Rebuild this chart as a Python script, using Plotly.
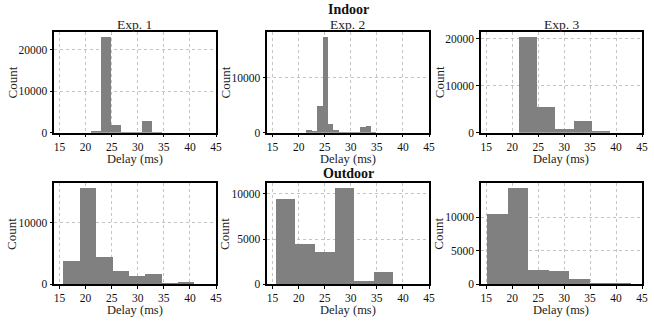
import plotly.graph_objects as go

# ---- data ----
panel_titles = ["Exp. 1", "Exp. 2", "Exp. 3", "", "", ""]
row_titles = ["Indoor", "Outdoor"]

# histogram bins: first edge, bin width, counts
exp1_start, exp1_width = 21.0, 1.943
exp1_counts = [540, 23150, 1960, 200, 200, 2900, 300]

exp2_start, exp2_width = 21.45, 1.031
exp2_counts = [600, 420, 4880, 17550, 1670, 600, 180, 180, 180, 180, 1130, 1310, 180]

exp3_start, exp3_width = 21.26, 3.49
exp3_counts = [20480, 5490, 900, 2570, 450]

out1_start, out1_width = 15.7, 3.14
out1_counts = [3780, 15590, 4410, 2180, 1380, 1700, 30, 270]

out2_start, out2_width = 15.57, 3.76
out2_counts = [9350, 4420, 3550, 10620, 360, 1380]

out3_start, out3_width = 15.13, 3.94
out3_counts = [10440, 14370, 2140, 1990, 830, 50, 150]

y_ranges = [24330, 18430, 21500, 16370, 11150, 15090]
y_ticks = [[0, 10000, 20000], [0, 10000], [0, 10000, 20000],
           [0, 10000], [0, 5000, 10000], [0, 5000, 10000]]
x_ticks = [15, 20, 25, 30, 35, 40, 45]
x_range = [13.9, 45]

panels = [
    (exp1_start, exp1_width, exp1_counts),
    (exp2_start, exp2_width, exp2_counts),
    (exp3_start, exp3_width, exp3_counts),
    (out1_start, out1_width, out1_counts),
    (out2_start, out2_width, out2_counts),
    (out3_start, out3_width, out3_counts),
]

# ---- layout geometry ----
W, H = 654, 324
col_px = [(54.3, 218.0), (269.3, 433.0), (485.0, 648.0)]
row_px = [(32.3, 135.3), (186.7, 289.7)]

FONT = "Liberation Serif"
fig = go.Figure()
annotations = []

for i, (start, width, counts) in enumerate(panels):
    r, c = divmod(i, 3)
    n = i + 1
    xa = "x" if n == 1 else f"x{n}"
    ya = "y" if n == 1 else f"y{n}"
    centers = [start + width * (k + 0.5) for k in range(len(counts))]
    fig.add_trace(go.Bar(
        x=centers, y=counts, width=[width] * len(counts),
        marker=dict(color="#808080", line=dict(width=0)),
        xaxis=xa, yaxis=ya, showlegend=False, hoverinfo="skip",
    ))
    x0, x1 = col_px[c]
    t0, t1 = row_px[r]
    dom_x = [x0 / W, x1 / W]
    dom_y = [1 - t1 / H, 1 - t0 / H]
    axis_common = dict(
        showline=True, linecolor="#000000", linewidth=1.5, mirror=True,
        showgrid=True, gridcolor="#c4c4c4", griddash="dot",
        gridwidth=1, zeroline=False, ticks="outside", ticklen=2.5,
        tickcolor="black", tickwidth=1,
        tickfont=dict(family=FONT, size=11.5, color="#111"),
    )
    fig.update_layout(**{
        ("xaxis" if n == 1 else f"xaxis{n}"): dict(
            domain=dom_x, range=x_range, tickvals=x_ticks,
            anchor=ya, **axis_common),
        ("yaxis" if n == 1 else f"yaxis{n}"): dict(
            domain=dom_y, range=[0, y_ranges[i]], tickvals=y_ticks[i],
            tickformat="d", anchor=xa, **axis_common),
    })
    cx = (x0 + x1) / 2 / W
    if panel_titles[i]:
        annotations.append(dict(
            text=panel_titles[i], x=cx, y=1 - (t0 - 7) / H,
            xref="paper", yref="paper", xanchor="center", yanchor="middle",
            showarrow=False, borderpad=0,
            font=dict(family=FONT, size=13.5, color="#222")))
    annotations.append(dict(
        text="Delay (ms)", x=cx, y=1 - (t1 + 26.5) / H,
        xref="paper", yref="paper", xanchor="center", yanchor="middle",
        showarrow=False, borderpad=0,
        font=dict(family=FONT, size=12.5, color="#222")))
    annotations.append(dict(
        text="Count", x=(x0 - 42) / W, y=1 - (t0 + t1) / 2 / H,
        xref="paper", yref="paper", xanchor="center", yanchor="middle",
        textangle=-90, showarrow=False, borderpad=0,
        font=dict(family=FONT, size=13, color="#222")))

annotations.append(dict(
    text="<b>" + row_titles[0] + "</b>", x=351.5 / W, y=1 - 9.5 / H,
    xref="paper", yref="paper", xanchor="center", yanchor="middle",
    showarrow=False, borderpad=0,
    font=dict(family=FONT, size=14, color="#111")))
annotations.append(dict(
    text="<b>" + row_titles[1] + "</b>", x=351.5 / W, y=1 - 177 / H,
    xref="paper", yref="paper", xanchor="center", yanchor="middle",
    showarrow=False, borderpad=0,
    font=dict(family=FONT, size=14, color="#111")))

fig.update_layout(
    width=W, height=H, margin=dict(l=0, r=0, t=0, b=0),
    plot_bgcolor="white", paper_bgcolor="white",
    bargap=0, annotations=annotations,
    font=dict(family=FONT, size=12, color="#222"),
)

fig.write_html("out.html")
